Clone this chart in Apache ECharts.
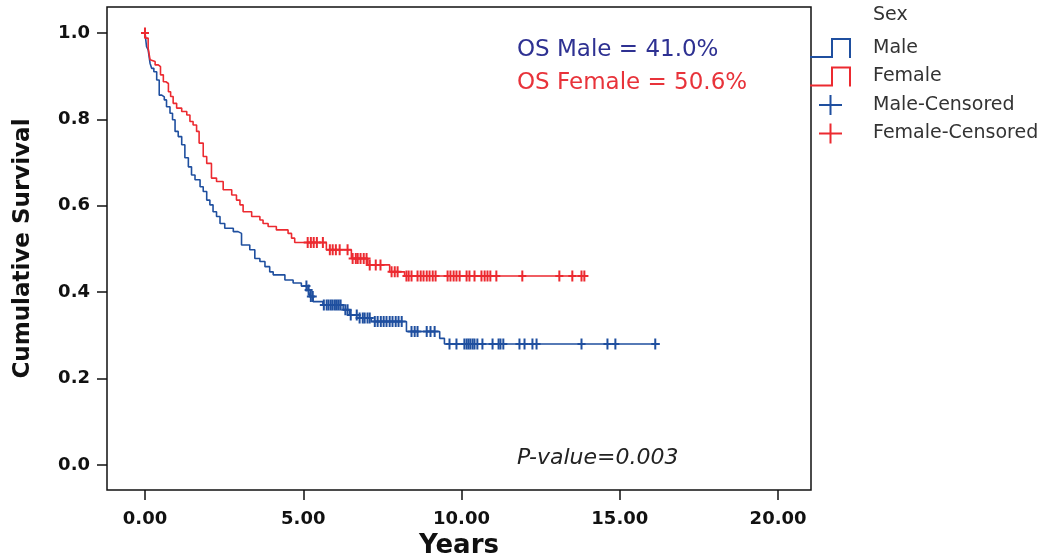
<!DOCTYPE html>
<html>
<head>
<meta charset="utf-8">
<script src="https://cdn.jsdelivr.net/npm/echarts@6/dist/echarts.min.js"></script>
<style>
html, body { margin: 0; padding: 0; background: #fff; }
#chart { width: 1048px; height: 560px; }
</style>
</head>
<body>
<div id="chart"></div>
<script>
// Kaplan-Meier steps (years, cumulative survival)
const maleTimes = [0, 0.05, 0.10, 0.16, 0.21, 0.28, 0.37, 0.45, 0.53, 0.61, 0.68, 0.79, 0.87, 0.95, 1.05, 1.16, 1.26, 1.37, 1.47, 1.58,
    1.74, 1.84, 1.95, 2.05, 2.15, 2.26, 2.37, 2.52, 2.79, 2.94, 3.05, 3.31, 3.47, 3.63, 3.79, 3.94, 4.05, 4.42, 4.68, 4.94,
    5.15, 5.21, 5.31, 5.62, 6.26, 6.47, 6.78, 7.15, 8.26, 9.31, 9.46, 16.27]
const maleSurv = [1, 0.968, 0.961, 0.930, 0.918, 0.910, 0.891, 0.856, 0.852, 0.845, 0.829, 0.814, 0.799, 0.772, 0.760, 0.741, 0.711, 0.690, 0.671, 0.660,
    0.644, 0.633, 0.613, 0.602, 0.586, 0.575, 0.559, 0.548, 0.540, 0.536, 0.509, 0.498, 0.478, 0.471, 0.459, 0.447, 0.440, 0.428, 0.421, 0.414,
    0.405, 0.390, 0.378, 0.370, 0.359, 0.347, 0.340, 0.332, 0.309, 0.293, 0.280, 0.280]
const maleCensored = [5.10, 5.17, 5.24, 5.30, 5.65, 5.74, 5.80, 5.87, 5.93, 6.00, 6.06, 6.12, 6.18, 6.33, 6.40, 6.50, 6.69, 6.78, 6.88, 6.94,
    7.03, 7.10, 7.26, 7.35, 7.45, 7.54, 7.63, 7.73, 7.82, 7.92, 8.01, 8.11, 8.42, 8.52, 8.61, 8.90, 9.02, 9.15, 9.62, 9.84,
    10.09, 10.16, 10.22, 10.28, 10.35, 10.41, 10.50, 10.66, 10.98, 11.17, 11.23, 11.32, 11.83, 11.99, 12.24, 12.37, 13.79, 14.61, 14.86, 16.12]

const femaleTimes = [0, 0.02, 0.10, 0.16, 0.21, 0.32, 0.42, 0.49, 0.58, 0.66, 0.74, 0.81, 0.89, 1.00, 1.16, 1.32, 1.42, 1.52, 1.63, 1.71,
    1.84, 1.95, 2.10, 2.26, 2.47, 2.74, 2.89, 3.00, 3.10, 3.37, 3.63, 3.73, 3.89, 4.15, 4.52, 4.63, 4.73, 5.73, 6.52, 7.04,
    7.73, 8.20, 14.0]
const femaleSurv = [1, 0.988, 0.965, 0.938, 0.934, 0.926, 0.922, 0.903, 0.887, 0.883, 0.864, 0.853, 0.837, 0.826, 0.818, 0.810, 0.795, 0.787, 0.772, 0.745,
    0.714, 0.698, 0.664, 0.656, 0.637, 0.625, 0.613, 0.602, 0.586, 0.575, 0.567, 0.559, 0.552, 0.544, 0.536, 0.525, 0.515, 0.498, 0.478, 0.463,
    0.447, 0.4375, 0.4375]
const femaleCensored = [0, 5.14, 5.24, 5.33, 5.43, 5.62, 5.84, 5.93, 6.03, 6.15, 6.40, 6.56, 6.66, 6.72, 6.81, 6.91, 7.00, 7.10, 7.29, 7.44,
    7.79, 7.89, 7.98, 8.26, 8.33, 8.42, 8.61, 8.71, 8.80, 8.90, 8.99, 9.09, 9.18, 9.56, 9.65, 9.75, 9.84, 9.94, 10.16, 10.25,
    10.41, 10.63, 10.73, 10.82, 10.91, 11.10, 11.92, 13.09, 13.50, 13.79, 13.88]

const xTicks = [0, 5, 10, 15, 20]
const yTicks = [0, 0.2, 0.4, 0.6, 0.8, 1.0]

const BLUE = '#1f4f9f'
const RED = '#ec2a30'
const FONT = 'DejaVu Sans'

// survival value of a step curve at time t
const stepAt = (times, surv, t) => {
    let s = surv[0]
    for (let i = 0; i < times.length; i++) {
        if (times[i] <= t) s = surv[i]
        else break
    }
    return s
}

const zip = (a, b) => a.map((v, i) => [v, b[i]])

const plusMark = 'path://M0,4.5H8V6.5H0Z M3,0H5V11H3Z'
const plusIcon = 'path://M0,9H23V11H0Z M10.5,0H12.5V20H10.5Z'
const stepIcon = 'path://M0,18H21V0H41V20H39V2H23V20H0Z'

let chart = echarts.init(document.getElementById('chart'))
chart.setOption({
    animation: false,
    textStyle: { fontFamily: FONT },
    grid: {
        left: 107,
        right: 237,
        top: 7,
        bottom: 70,
        show: true,
        borderColor: '#111',
        borderWidth: 1.5,
        backgroundColor: 'transparent',
        outerBoundsMode: 'none'
    },
    xAxis: {
        type: 'value',
        min: -1.2,
        max: 21.04,
        name: 'Years',
        nameLocation: 'middle',
        nameGap: 43,
        nameTextStyle: { fontSize: 26, fontWeight: 'bold', color: '#111', fontFamily: FONT },
        axisLine: { show: false, onZero: false },
        axisTick: {
            show: true,
            inside: false,
            length: 10,
            customValues: xTicks,
            lineStyle: { color: '#111', width: 1.5 }
        },
        axisLabel: {
            customValues: xTicks,
            margin: 20,
            fontSize: 18,
            fontWeight: 'bold',
            color: '#111',
            formatter: v => v.toFixed(2)
        },
        splitLine: { show: false }
    },
    yAxis: {
        type: 'value',
        min: -0.058,
        max: 1.060,
        name: 'Cumulative Survival',
        nameLocation: 'middle',
        nameGap: 72,
        nameTextStyle: { fontSize: 23, fontWeight: 'bold', color: '#111', fontFamily: FONT },
        axisLine: { show: false, onZero: false },
        axisTick: {
            show: true,
            inside: false,
            length: 10,
            customValues: yTicks,
            lineStyle: { color: '#111', width: 1.5 }
        },
        axisLabel: {
            customValues: yTicks,
            margin: 17,
            fontSize: 18,
            fontWeight: 'bold',
            color: '#111',
            formatter: v => v.toFixed(1)
        },
        splitLine: { show: false }
    },
    legend: {
        orient: 'vertical',
        left: 810,
        top: 37,
        padding: 0,
        itemWidth: 41,
        itemHeight: 20,
        itemGap: 6.5,
        selectedMode: false,
        itemStyle: { borderWidth: 0, opacity: 1 },
        textStyle: { fontSize: 19, color: '#333', lineHeight: 22, padding: [0, 0, 0, 17], fontFamily: FONT },
        data: [
            { name: 'Male', icon: stepIcon },
            { name: 'Female', icon: stepIcon },
            { name: 'Male-Censored', icon: plusIcon },
            { name: 'Female-Censored', icon: plusIcon }
        ]
    },
    graphic: [
        { type: 'text', left: 873, top: 6, style: { text: 'Sex', fill: '#333', font: '19px "DejaVu Sans"' } },
        { type: 'text', left: 517, top: 39, style: { text: 'OS Male = 41.0%', fill: '#2e3192', font: '23px "DejaVu Sans"' } },
        { type: 'text', left: 517, top: 72, style: { text: 'OS Female = 50.6%', fill: '#e8333a', font: '23px "DejaVu Sans"' } },
        { type: 'text', left: 517, top: 447, style: { text: 'P-value=0.003', fill: '#222', font: 'italic 22px "DejaVu Sans"' } }
    ],
    series: [
        {
            name: 'Male',
            type: 'line',
            step: 'end',
            color: BLUE,
            showSymbol: false,
            lineStyle: { color: BLUE, width: 1.6 },
            data: zip(maleTimes, maleSurv),
            z: 2
        },
        {
            name: 'Female',
            type: 'line',
            step: 'end',
            color: RED,
            showSymbol: false,
            lineStyle: { color: RED, width: 1.6 },
            data: zip(femaleTimes, femaleSurv),
            z: 3
        },
        {
            name: 'Male-Censored',
            type: 'scatter',
            color: BLUE,
            symbol: plusMark,
            symbolSize: [8, 11],
            itemStyle: { color: BLUE, opacity: 1 },
            data: maleCensored.map(t => [t, stepAt(maleTimes, maleSurv, t)]),
            z: 4
        },
        {
            name: 'Female-Censored',
            type: 'scatter',
            color: RED,
            symbol: plusMark,
            symbolSize: [8, 11],
            itemStyle: { color: RED, opacity: 1 },
            data: femaleCensored.map(t => [t, stepAt(femaleTimes, femaleSurv, t)]),
            z: 5
        }
    ]
})
</script>
</body>
</html>
